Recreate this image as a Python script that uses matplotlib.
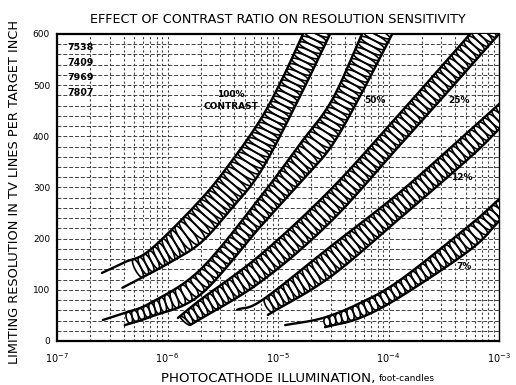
import numpy as np
import matplotlib
matplotlib.use("Agg")
import matplotlib.pyplot as plt
from matplotlib.collections import LineCollection
from matplotlib.ticker import LogLocator, NullFormatter

# Each band is bounded by an upper-left edge and a lower-right edge,
# given as illumination (foot-candles) vs limiting resolution (TV lines).
c100_top_fc = [2.55e-7, 4.1e-7, 6.95e-7, 1.97e-6, 3.7e-6, 6.9e-6, 1.09e-5, 1.68e-5]
c100_top_tvl = [133, 154, 178, 275, 348, 432, 512, 600]
c100_bot_fc = [3.9e-7, 9.5e-7, 1.97e-6, 3.7e-6, 6.9e-6, 1.43e-5, 2.96e-5]
c100_bot_tvl = [104, 148, 191, 256, 330, 459, 600]

c50_top_fc = [2.6e-7, 4.1e-7, 6.95e-7, 1.97e-6, 6.9e-6, 1.58e-5, 3.08e-5, 5.75e-5]
c50_top_tvl = [41, 55, 74, 139, 281, 385, 471, 600]
c50_bot_fc = [4.1e-7, 6.95e-7, 1.97e-6, 6.9e-6, 1.58e-5, 2.96e-5, 5.3e-5, 1.08e-4]
c50_bot_tvl = [31, 47, 90, 223, 309, 377, 471, 600]

c25_top_fc = [1.24e-6, 1.97e-6, 6.9e-6, 2.96e-5, 1.27e-4, 5.47e-4]
c25_top_tvl = [45, 80, 168, 295, 445, 600]
c25_bot_fc = [1.6e-6, 6.9e-6, 2.96e-5, 1.27e-4, 3.6e-4, 1.0e-3]
c25_bot_tvl = [31, 115, 232, 383, 492, 600]

c12_top_fc = [4.26e-6, 7.2e-6, 2.96e-5, 1.27e-4, 5.47e-4, 1.0e-3]
c12_top_tvl = [61, 80, 184, 291, 412, 463]
c12_bot_fc = [8.1e-6, 2.96e-5, 1.27e-4, 5.47e-4, 1.0e-3]
c12_bot_tvl = [51, 125, 240, 359, 414]

c7_top_fc = [1.16e-5, 2.55e-5, 5.5e-5, 1.27e-4, 5.47e-4, 1.0e-3]
c7_top_tvl = [31, 45, 74, 119, 227, 277]
c7_bot_fc = [2.66e-5, 5.5e-5, 1.27e-4, 5.47e-4, 1.0e-3]
c7_bot_tvl = [27, 45, 86, 178, 234]

# where the chain hatching starts on the upper edge (the rest is a plain tail)
hatch_from = [4.6e-7, 4.1e-7, 1.24e-6, 7.2e-6, 2.55e-5]

bands = [
    (c100_top_fc, c100_top_tvl, c100_bot_fc, c100_bot_tvl),
    (c50_top_fc, c50_top_tvl, c50_bot_fc, c50_bot_tvl),
    (c25_top_fc, c25_top_tvl, c25_bot_fc, c25_bot_tvl),
    (c12_top_fc, c12_top_tvl, c12_bot_fc, c12_bot_tvl),
    (c7_top_fc, c7_top_tvl, c7_bot_fc, c7_bot_tvl),
]

labels = ["100%\nCONTRAST", "50%", "25%", "12%", "7%"]
label_fc = [3.75e-6, 7.55e-5, 4.35e-4, 4.62e-4, 4.8e-4]
label_tvl = [470, 471, 471, 320, 145]
tube_types = ["7538", "7409", "7969", "7807"]

fig = plt.figure(figsize=(5.16, 3.85), dpi=100)
ax = fig.add_axes([0.1105, 0.1143, 0.8566, 0.7974])
ax.set_xscale("log")
ax.set_xlim(1e-7, 1e-3)
ax.set_ylim(0, 600)
fig.canvas.draw()


def catmull(pts, n=24):
    p = np.vstack([2 * pts[0] - pts[1], pts, 2 * pts[-1] - pts[-2]])
    out = []
    t = np.linspace(0, 1, n, endpoint=False)[:, None]
    for i in range(1, len(p) - 2):
        p0, p1, p2, p3 = p[i - 1], p[i], p[i + 1], p[i + 2]
        out.append(0.5 * (2 * p1 + (-p0 + p2) * t
                          + (2 * p0 - 5 * p1 + 4 * p2 - p3) * t ** 2
                          + (-p0 + 3 * p1 - 3 * p2 + p3) * t ** 3))
    out.append(pts[-1:])
    return np.vstack(out)


def extend(curve, length=30):
    # run the curve on past the frame so the clipping cuts it cleanly
    d = curve[-1] - curve[-3]
    return np.vstack([curve, curve[-1] + d / np.hypot(*d) * length])


def arc_points(curve, n):
    d = np.r_[0, np.cumsum(np.hypot(*np.diff(curve, axis=0).T))]
    s = np.linspace(0, d[-1], n)
    return np.column_stack([np.interp(s, d, curve[:, 0]), np.interp(s, d, curve[:, 1])]), d[-1]


to_px = ax.transData.transform
to_data = ax.transData.inverted().transform
theta = np.linspace(0, 2 * np.pi, 25)[:, None]

for (tfc, ttv, bfc, btv), h0 in zip(bands, hatch_from):
    top = extend(catmull(to_px(np.column_stack([tfc, ttv]))))
    bot = extend(catmull(to_px(np.column_stack([bfc, btv]))))
    x0 = to_px([[h0, 100]])[0, 0]
    top_h = top[top[:, 0] >= x0 - 0.5]

    _, lt = arc_points(top_h, 2)
    n = int(lt / 6.0) + 1
    a, _ = arc_points(top_h, n)
    dense, _ = arc_points(bot, 3000)
    dist = np.hypot(a[:, None, 0] - dense[None, :, 0], a[:, None, 1] - dense[None, :, 1])
    b = dense[np.argmin(dist, axis=1)]

    # white body of the band
    body = to_data(np.vstack([top_h, bot[::-1]]))
    ax.fill(body[:, 0], body[:, 1], color="white", zorder=3, lw=0)

    # chain of ovals, each one inscribed between neighbouring rungs
    links = []
    for i in range(n - 1):
        c = (a[i] + a[i + 1] + b[i] + b[i + 1]) / 4
        u = (b[i] + b[i + 1] - a[i] - a[i + 1]) / 4
        v = (a[i + 1] + b[i + 1] - a[i] - b[i]) / 4
        links.append(to_data(c + u * np.cos(theta) + v * np.sin(theta)))
    ax.add_collection(LineCollection(links, colors="black", lw=1.2, zorder=4))

    for edge in (top, bot):
        e = to_data(edge)
        ax.plot(e[:, 0], e[:, 1], color="black", lw=1.7, zorder=5,
                solid_capstyle="round")

for txt, fx, fy in zip(labels, label_fc, label_tvl):
    ax.text(fx, fy, txt, ha="center", va="center", fontsize=6.5,
            fontweight="bold", linespacing=1.45, zorder=6)

ax.text(0.023, 0.972, "\n".join(tube_types), transform=ax.transAxes,
        ha="left", va="top", fontsize=6.8, fontweight="bold", linespacing=1.9)

ax.set_yticks(np.arange(0, 601, 100))
ax.set_yticks(np.arange(0, 601, 20), minor=True)
ax.xaxis.set_major_locator(LogLocator(base=10, numticks=10))
ax.xaxis.set_minor_locator(LogLocator(base=10, subs=np.arange(2, 10), numticks=20))
ax.xaxis.set_minor_formatter(NullFormatter())
ax.set_axisbelow(True)
ax.grid(which="both", axis="y", ls=(0, (4, 2)), lw=0.7, color="0.25")
ax.grid(which="both", axis="x", ls=(0, (2, 2)), lw=0.8, color="0.25")
ax.tick_params(which="both", length=0)
ax.tick_params(axis="y", labelsize=6.5, pad=5)
ax.tick_params(axis="x", labelsize=7, pad=7)
for sp in ax.spines.values():
    sp.set_linewidth(1.6)
ax.spines["right"].set_linewidth(1.0)

ax.set_title("EFFECT OF CONTRAST RATIO ON RESOLUTION SENSITIVITY",
             fontsize=9.2, pad=8)
fig.text(0.727, 0.018, "PHOTOCATHODE ILLUMINATION,", ha="right", va="center",
         fontsize=9.6)
fig.text(0.735, 0.018, "foot-candles", ha="left", va="center", fontsize=6.5)
fig.text(0.029, 0.5, "LIMITING RESOLUTION IN TV LINES PER TARGET INCH",
         rotation=90, ha="center", va="center", fontsize=9.3)

fig.savefig("out.png", dpi=100)
